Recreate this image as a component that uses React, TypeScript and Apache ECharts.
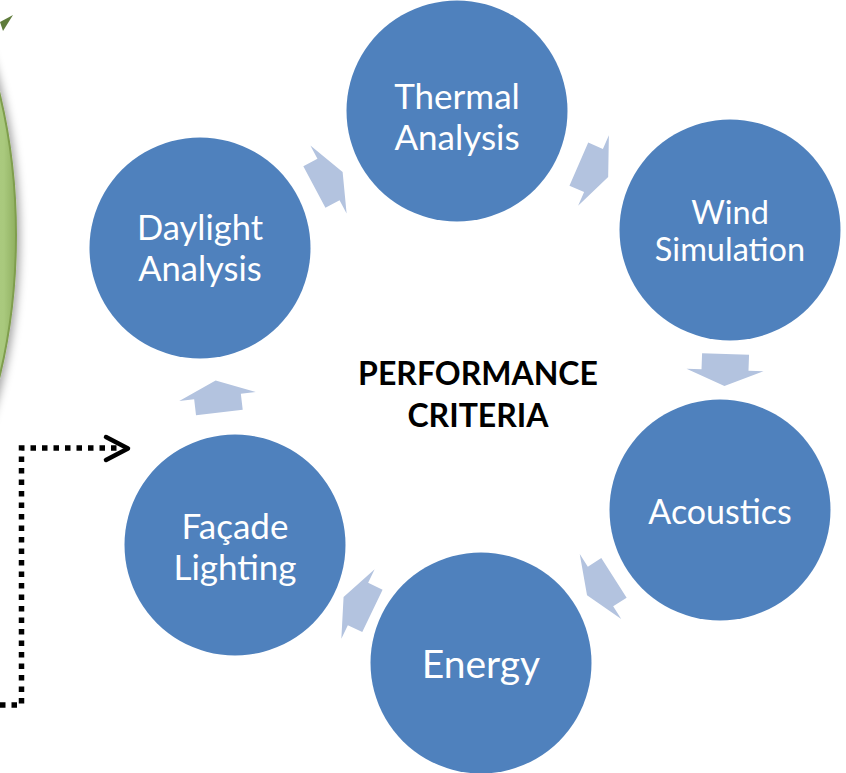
import React, { useEffect, useRef } from "react";
import * as echarts from "echarts";

// Diagram data (cycle order, clockwise)
const nodeLabels = ["Thermal\nAnalysis", "Wind\nSimulation", "Acoustics", "Energy", "Façade\nLighting", "Daylight\nAnalysis"];
const nodeX = [457, 730, 720, 481, 235, 200];
const nodeY = [111, 230, 510, 663, 545, 248];
const nodeFontSize = [35, 32.5, 34, 39, 35, 34.5];
const nodeLineHeight = [41, 37, 41, 41, 41, 41];
const nodeTextShift = [4, 0, 0, 0, 0, -1];
const centerTitle = "PERFORMANCE\nCRITERIA";
// dotted connector path on the left
const connectorX = [0, 21.5, 21.5, 118];
const connectorY = [705, 705, 448, 448];

const W = 846;
const H = 773;

export default function App() {
  const ref = useRef<HTMLDivElement>(null);
  useEffect(() => {
    if (!ref.current) return;
    const chart = echarts.init(ref.current, null, { renderer: "svg", width: W, height: H });

    const scatterData = nodeLabels.map((name, i) => ({
      name,
      value: [nodeX[i], nodeY[i]],
      label: { fontSize: nodeFontSize[i], lineHeight: nodeLineHeight[i], offset: [0, nodeTextShift[i]] },
    }));

    const arrowData = nodeLabels.map((_, i) => {
      const j = (i + 1) % nodeLabels.length;
      return [nodeX[i], nodeY[i], nodeX[j], nodeY[j]];
    });

    const connectorPts = connectorX.map((x, i) => [x, connectorY[i]]);

    chart.setOption({
      animation: false,
      backgroundColor: "#ffffff",
      grid: { left: 0, right: 0, top: 0, bottom: 0 },
      xAxis: { type: "value", min: 0, max: W, show: false },
      yAxis: { type: "value", min: 0, max: H, inverse: true, show: false },
      graphic: [
        {
          type: "ellipse",
          shape: { cx: -184, cy: 235, rx: 200, ry: 356 },
          style: {
            fill: new echarts.graphic.LinearGradient(1, 0, 0, 0, [
              { offset: 0, color: "#8FAF5F" },
              { offset: 0.03, color: "#A9C97D" },
              { offset: 0.3, color: "#B8D491" },
              { offset: 1, color: "#B8D491" },
            ]),
            stroke: "#7F9E4E",
            lineWidth: 2,
            shadowBlur: 8,
            shadowColor: "rgba(0,0,0,0.35)",
            shadowOffsetX: 3,
            shadowOffsetY: 2,
          },
          z: 1,
        },
        {
          type: "polygon",
          shape: { points: [[0, 22], [13, 15], [3, 31]] },
          style: { fill: "#5F7C3B" },
          z: 2,
        },
        {
          type: "polyline",
          shape: { points: connectorPts },
          style: { stroke: "#000000", lineWidth: 5.5, lineDash: [5.5, 6], fill: null },
          z: 2,
        },
        {
          type: "polyline",
          shape: { points: [[106, 437], [128, 448.5], [106, 460]] },
          style: { stroke: "#000000", lineWidth: 4.5, lineCap: "round", lineJoin: "round", fill: null },
          z: 2,
        },
        {
          type: "text",
          x: 478,
          y: 393,
          style: {
            text: centerTitle,
            fill: "#000000",
            fontFamily: "Lato",
            fontWeight: "bold",
            fontSize: 32,
            lineHeight: 42,
            align: "center",
            verticalAlign: "middle",
            textAlign: "center",
            textVerticalAlign: "middle",
          },
          z: 3,
        },
      ],
      series: [
        {
          type: "custom",
          coordinateSystem: "cartesian2d",
          data: arrowData,
          z: 1,
          renderItem: (params: any, api: any) => {
            const p1 = api.coord([api.value(0), api.value(1)]);
            const p2 = api.coord([api.value(2), api.value(3)]);
            const mx = (p1[0] + p2[0]) / 2;
            const my = (p1[1] + p2[1]) / 2;
            const ang = Math.atan2(p2[1] - p1[1], p2[0] - p1[0]);
            const c = Math.cos(ang);
            const s = Math.sin(ang);
            const local = [
              [-16, -23.5],
              [0, -23.5],
              [0, -38.5],
              [16, 0],
              [0, 38.5],
              [0, 23.5],
              [-16, 23.5],
            ];
            const pts = local.map(([u, v]) => [mx + u * c - v * s, my + u * s + v * c]);
            return {
              type: "polygon",
              shape: { points: pts },
              style: { fill: "#B3C3DF" },
            };
          },
        },
        {
          type: "scatter",
          data: scatterData,
          symbol: "circle",
          symbolSize: 221,
          z: 2,
          itemStyle: { color: "#4F81BD", opacity: 1 },
          label: {
            show: true,
            position: "inside",
            formatter: (p: any) => p.name,
            color: "#ffffff",
            fontFamily: "Lato",
            align: "center",
            verticalAlign: "middle",
          },
          emphasis: { disabled: true },
        },
      ],
    });
    return () => chart.dispose();
  }, []);

  return (
    <div
      ref={ref}
      style={{ position: "fixed", left: 0, top: 0, width: W, height: H, background: "#fff" }}
    />
  );
}
